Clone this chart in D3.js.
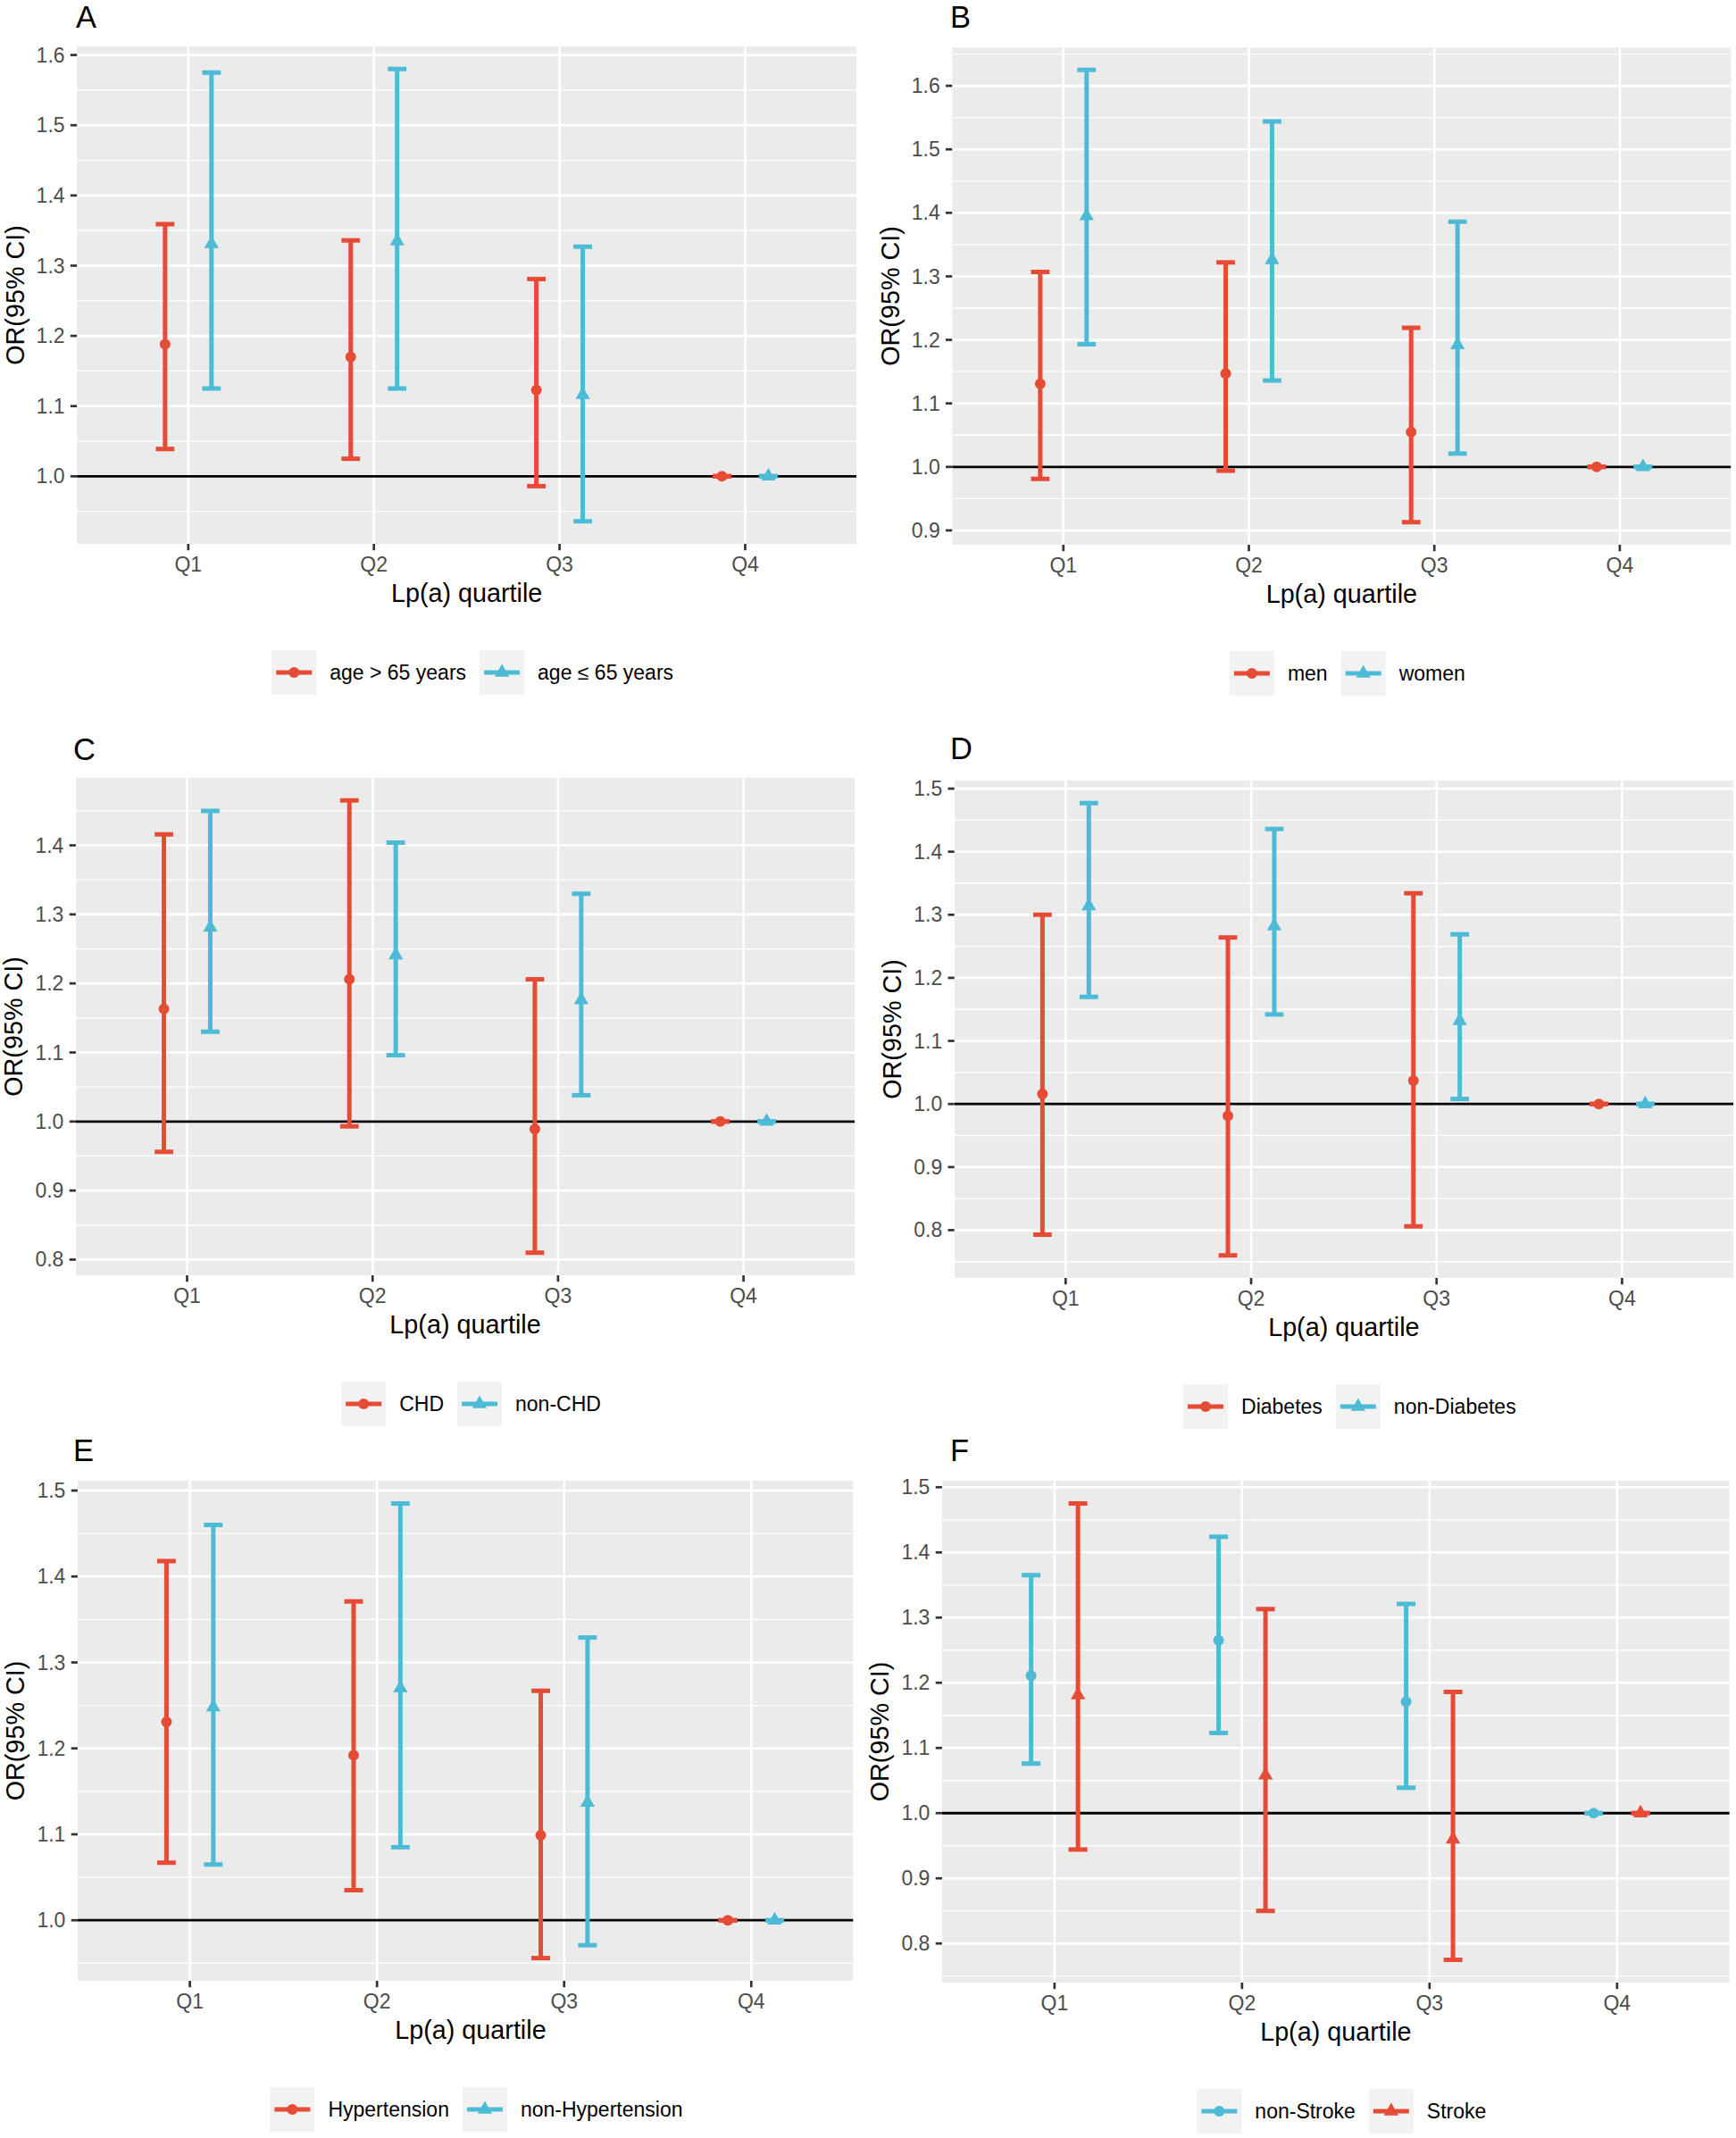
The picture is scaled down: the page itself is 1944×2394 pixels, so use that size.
<!DOCTYPE html>
<html><head><meta charset="utf-8">
<script src="https://cdn.jsdelivr.net/npm/d3@7"></script>
<style>
body{margin:0;background:#fff;}
svg{display:block;}
text{font-family:"Liberation Sans",Arial,Helvetica,sans-serif;}
</style>
</head><body>
<svg id="chart" width="1944" height="2394"></svg>
<script>
// ---------- data ----------
const quartiles = ["Q1", "Q2", "Q3", "Q4"];
const panelTags = ["A", "B", "C", "D", "E", "F"];
const xAxisTitle = "Lp(a) quartile";
const yAxisTitle = "OR(95% CI)";
const red = "#E64B35", cyan = "#4DBBD5";

// tick labels per panel
const A_ticks = [1.0, 1.1, 1.2, 1.3, 1.4, 1.5, 1.6];
const B_ticks = [0.9, 1.0, 1.1, 1.2, 1.3, 1.4, 1.5, 1.6];
const C_ticks = [0.8, 0.9, 1.0, 1.1, 1.2, 1.3, 1.4];
const D_ticks = [0.8, 0.9, 1.0, 1.1, 1.2, 1.3, 1.4, 1.5];
const E_ticks = [1.0, 1.1, 1.2, 1.3, 1.4, 1.5];
const F_ticks = [0.8, 0.9, 1.0, 1.1, 1.2, 1.3, 1.4, 1.5];

// Panel A
const A1_name = "age > 65 years";
const A1_or = [1.188, 1.170, 1.123, 1.0];
const A1_lo = [1.039, 1.025, 0.986, 1.0];
const A1_hi = [1.359, 1.336, 1.281, 1.0];
const A2_name = "age \u2264 65 years";
const A2_or = [1.331, 1.335, 1.116, 1.0];
const A2_lo = [1.125, 1.125, 0.936, 1.0];
const A2_hi = [1.575, 1.580, 1.327, 1.0];
// Panel B
const B1_name = "men";
const B1_or = [1.131, 1.147, 1.055, 1.0];
const B1_lo = [0.981, 0.994, 0.913, 1.0];
const B1_hi = [1.307, 1.322, 1.219, 1.0];
const B2_name = "women";
const B2_or = [1.395, 1.326, 1.192, 1.0];
const B2_lo = [1.193, 1.136, 1.021, 1.0];
const B2_hi = [1.625, 1.544, 1.386, 1.0];
// Panel C
const C1_name = "CHD";
const C1_or = [1.163, 1.206, 0.989, 1.0];
const C1_lo = [0.956, 0.993, 0.810, 1.0];
const C1_hi = [1.416, 1.465, 1.206, 1.0];
const C2_name = "non-CHD";
const C2_or = [1.281, 1.241, 1.176, 1.0];
const C2_lo = [1.130, 1.096, 1.038, 1.0];
const C2_hi = [1.450, 1.404, 1.330, 1.0];
// Panel D
const D1_name = "Diabetes";
const D1_or = [1.016, 0.981, 1.037, 1.0];
const D1_lo = [0.793, 0.760, 0.806, 1.0];
const D1_hi = [1.300, 1.264, 1.334, 1.0];
const D2_name = "non-Diabetes";
const D2_or = [1.314, 1.282, 1.132, 1.0];
const D2_lo = [1.170, 1.142, 1.008, 1.0];
const D2_hi = [1.477, 1.436, 1.269, 1.0];
// Panel E
const E1_name = "Hypertension";
const E1_or = [1.231, 1.192, 1.099, 1.0];
const E1_lo = [1.067, 1.035, 0.956, 1.0];
const E1_hi = [1.418, 1.371, 1.267, 1.0];
const E2_name = "non-Hypertension";
const E2_or = [1.248, 1.270, 1.137, 1.0];
const E2_lo = [1.065, 1.085, 0.971, 1.0];
const E2_hi = [1.460, 1.485, 1.329, 1.0];
// Panel F
const F1_name = "non-Stroke";
const F1_or = [1.211, 1.265, 1.171, 1.0];
const F1_lo = [1.076, 1.123, 1.039, 1.0];
const F1_hi = [1.365, 1.424, 1.321, 1.0];
const F2_name = "Stroke";
const F2_or = [1.181, 1.058, 0.960, 1.0];
const F2_lo = [0.944, 0.850, 0.775, 1.0];
const F2_hi = [1.475, 1.313, 1.186, 1.0];

// ---------- layout ----------
const panels = [
  {tag: panelTags[0], ticks: A_ticks, x0: 86.1, x1: 959.2, clipR: 959.2, y0: 52, y1: 609, tagX: 85, tagY: 31,
   s1: {name: A1_name, or: A1_or, lo: A1_lo, hi: A1_hi, color: red, shape: "circle"},
   s2: {name: A2_name, or: A2_or, lo: A2_lo, hi: A2_hi, color: cyan, shape: "triangle"}},
  {tag: panelTags[1], ticks: B_ticks, x0: 1066.2, x1: 1938.5, clipR: 1938.5, y0: 53, y1: 610, tagX: 1064, tagY: 31,
   s1: {name: B1_name, or: B1_or, lo: B1_lo, hi: B1_hi, color: red, shape: "circle"},
   s2: {name: B2_name, or: B2_or, lo: B2_lo, hi: B2_hi, color: cyan, shape: "triangle"}},
  {tag: panelTags[2], ticks: C_ticks, x0: 84.9, x1: 957.2, clipR: 957.2, y0: 871, y1: 1428, tagX: 82, tagY: 851,
   s1: {name: C1_name, or: C1_or, lo: C1_lo, hi: C1_hi, color: red, shape: "circle"},
   s2: {name: C2_name, or: C2_or, lo: C2_lo, hi: C2_hi, color: cyan, shape: "triangle"}},
  {tag: panelTags[3], ticks: D_ticks, x0: 1068.7, x1: 1941, clipR: 1941, y0: 874, y1: 1431, tagX: 1064, tagY: 850,
   s1: {name: D1_name, or: D1_or, lo: D1_lo, hi: D1_hi, color: red, shape: "circle"},
   s2: {name: D2_name, or: D2_or, lo: D2_lo, hi: D2_hi, color: cyan, shape: "triangle"}},
  {tag: panelTags[4], ticks: E_ticks, x0: 86.9, x1: 967, clipR: 955.5, y0: 1658, y1: 2218, tagX: 82, tagY: 1636,
   s1: {name: E1_name, or: E1_or, lo: E1_lo, hi: E1_hi, color: red, shape: "circle"},
   s2: {name: E2_name, or: E2_or, lo: E2_lo, hi: E2_hi, color: cyan, shape: "triangle"}},
  {tag: panelTags[5], ticks: F_ticks, x0: 1054.9, x1: 1936.8, clipR: 1936.8, y0: 1658, y1: 2220, tagX: 1064, tagY: 1636,
   s1: {name: F1_name, or: F1_or, lo: F1_lo, hi: F1_hi, color: cyan, shape: "circle"},
   s2: {name: F2_name, or: F2_or, lo: F2_lo, hi: F2_hi, color: red, shape: "triangle"}}
];

const svg = d3.select("#chart");
svg.append("rect").attr("width", 1944).attr("height", 2394).attr("fill", "#fff");

const circleSym = d3.symbol().type(d3.symbolCircle).size(Math.PI * 6 * 6);
const triSym = d3.symbol().type(d3.symbolTriangle).size(115);

function drawMarker(g, shape, cx, cy, color) {
  g.append("path")
    .attr("d", shape === "circle" ? circleSym() : triSym())
    .attr("transform", `translate(${cx},${cy})`)
    .attr("fill", color);
}

panels.forEach((p, pi) => {
  const g = svg.append("g");
  const all = [].concat(p.s1.lo, p.s1.hi, p.s2.lo, p.s2.hi, p.s1.or, p.s2.or);
  const lo = d3.min(all), hi = d3.max(all), r = hi - lo;
  const y = d3.scaleLinear().domain([lo - 0.05 * r, hi + 0.05 * r]).range([p.y1, p.y0]);
  const x = d3.scalePoint().domain(quartiles).range([p.x0, p.x1]).padding(0.6);
  const step = x.step();
  const visR = p.clipR;

  const clipId = "clip" + pi;
  svg.append("clipPath").attr("id", clipId)
    .append("rect").attr("x", p.x0).attr("y", p.y0).attr("width", visR - p.x0).attr("height", p.y1 - p.y0);

  const pg = g.append("g").attr("clip-path", `url(#${clipId})`);
  pg.append("rect").attr("x", p.x0).attr("y", p.y0).attr("width", visR - p.x0).attr("height", p.y1 - p.y0)
    .attr("fill", "#EBEBEB");

  // minor grid
  const dom = y.domain();
  const minors = [];
  p.ticks.forEach(t => { [t - 0.05, t + 0.05].forEach(m => { if (m > dom[0] && m < dom[1] && !minors.some(v => Math.abs(v - m) < 1e-6)) minors.push(m); }); });
  pg.selectAll(".minor").data(minors).enter().append("line")
    .attr("x1", p.x0).attr("x2", visR).attr("y1", d => y(d)).attr("y2", d => y(d))
    .attr("stroke", "#fff").attr("stroke-width", 1.3);
  // major grid
  pg.selectAll(".majorY").data(p.ticks).enter().append("line")
    .attr("x1", p.x0).attr("x2", visR).attr("y1", d => y(d)).attr("y2", d => y(d))
    .attr("stroke", "#fff").attr("stroke-width", 2.6);
  pg.selectAll(".majorX").data(quartiles).enter().append("line")
    .attr("x1", d => x(d)).attr("x2", d => x(d)).attr("y1", p.y0).attr("y2", p.y1)
    .attr("stroke", "#fff").attr("stroke-width", 2.6);

  // reference line
  pg.append("line").attr("x1", p.x0).attr("x2", visR).attr("y1", y(1)).attr("y2", y(1))
    .attr("stroke", "#000").attr("stroke-width", 2.8);

  // error bars + points
  const dodge = 0.125 * step, capHalf = 0.05 * step;
  [[p.s1, -dodge], [p.s2, dodge]].forEach(([s, off]) => {
    quartiles.forEach((q, i) => {
      const cx = x(q) + off;
      const eg = pg.append("g").attr("stroke", s.color).attr("stroke-width", 5).attr("fill", "none");
      eg.append("line").attr("x1", cx).attr("x2", cx).attr("y1", y(s.lo[i])).attr("y2", y(s.hi[i]));
      eg.append("line").attr("x1", cx - capHalf).attr("x2", cx + capHalf).attr("y1", y(s.hi[i])).attr("y2", y(s.hi[i]));
      eg.append("line").attr("x1", cx - capHalf).attr("x2", cx + capHalf).attr("y1", y(s.lo[i])).attr("y2", y(s.lo[i]));
      drawMarker(pg, s.shape, cx, y(s.or[i]), s.color);
    });
  });

  // y axis ticks & labels
  p.ticks.forEach(t => {
    g.append("line").attr("x1", p.x0 - 7.2).attr("x2", p.x0).attr("y1", y(t)).attr("y2", y(t))
      .attr("stroke", "#333").attr("stroke-width", 2.7);
    g.append("text").attr("x", p.x0 - 13.5).attr("y", y(t)).attr("dy", "0.35em")
      .attr("text-anchor", "end").attr("font-size", 23).attr("fill", "#4D4D4D").text(t.toFixed(1));
  });
  // x axis ticks & labels
  quartiles.forEach(q => {
    g.append("line").attr("x1", x(q)).attr("x2", x(q)).attr("y1", p.y1).attr("y2", p.y1 + 7.2)
      .attr("stroke", "#333").attr("stroke-width", 2.7);
    g.append("text").attr("x", x(q)).attr("y", p.y1 + 30.5).attr("text-anchor", "middle")
      .attr("font-size", 23).attr("fill", "#4D4D4D").text(q);
  });
  // axis titles
  const pcx = (p.x0 + p.x1) / 2;
  g.append("text").attr("x", pcx).attr("y", p.y1 + 65).attr("text-anchor", "middle")
    .attr("font-size", 28.75).attr("fill", "#000").text(xAxisTitle);
  g.append("text").attr("transform", `translate(${p.x0 - 59.5},${(p.y0 + p.y1) / 2}) rotate(-90)`)
    .attr("text-anchor", "middle").attr("font-size", 28.75).attr("fill", "#000").text(yAxisTitle);
  // tag
  g.append("text").attr("x", p.tagX).attr("y", p.tagY).attr("font-size", 34.5).attr("fill", "#000").text(p.tag);

  // legend
  const lg = g.append("g");
  let cur = 0;
  [p.s1, p.s2].forEach((s, k) => {
    if (k > 0) cur += 15;
    lg.append("rect").attr("x", cur).attr("y", 0).attr("width", 50).attr("height", 50).attr("fill", "#F2F2F2");
    lg.append("line").attr("x1", cur + 5).attr("x2", cur + 45).attr("y1", 25).attr("y2", 25)
      .attr("stroke", s.color).attr("stroke-width", 5.2);
    drawMarker(lg, s.shape, cur + 25, 25, s.color);
    const t = lg.append("text").attr("x", cur + 65).attr("y", 25).attr("dy", "0.35em")
      .attr("font-size", 23).attr("fill", "#000").text(s.name);
    cur += 65 + t.node().getComputedTextLength();
  });
  const lgx = pcx + 6.5 - cur / 2;
  lg.attr("transform", `translate(${lgx},${p.y1 + 119})`);
});
</script>
</body></html>
